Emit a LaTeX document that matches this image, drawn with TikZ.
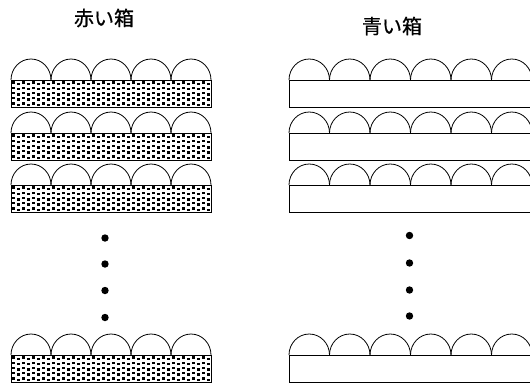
\documentclass[tikz,border=0pt]{standalone}
\usepackage{fontspec}
\newfontfamily\jpfont[FakeBold=0.6]{Noto Sans CJK JP}
\tikzset{
x=1pt, y=-1pt,
title/.style={font=\jpfont\fontsize{20}{22}\selectfont},
shelf/.style={draw,line width=0.8pt},
dome/.style={draw,line width=0.8pt},
grain/.style={fill=black},
gap dot/.style={fill,circle,inner sep=0pt,minimum size=7.4pt}
}
\begin{document}
\begin{tikzpicture}
\useasboundingbox (0,0) rectangle (530,384);
\clip (0,0) rectangle (530,384);

\node[title] (red)  at (104,18) {赤い箱};
\node[title] (blue) at (392,26) {青い箱};

% red boxes
\foreach \ty in {80,133,185,355} {
  \foreach \gx [evaluate=\gx as \sh using {1.5*mod(\gx,2)}] in {0,...,39}
    \foreach \gy in {0,...,4}
      \fill[grain] (12.3+5*\gx,\ty+1.3+5.2*\gy+\sh) rectangle ++(2.4,2.4);
  \draw[shelf] (11,\ty) rectangle (211,\ty+27);
  \foreach \a in {11,51,91,131,171}
    \draw[dome] (\a,\ty) arc[start angle=180,end angle=0,x radius=20pt,y radius=21pt];
}

% blue boxes
\foreach \ty in {80,133,185,355} {
  \draw[shelf] (289,\ty) rectangle (545,\ty+27);
  \foreach \a in {289,329.5,370,410.5,451,491.5}
    \draw[dome] (\a,\ty) arc[start angle=180,end angle=0,x radius=20.25pt,y radius=21pt];
}

% gaps
\foreach \i/\ly/\ry in {1/238/235.5,2/264/263,3/290.5/290,4/317.5/316} {
  \node[gap dot] (red gap\i)  at (105,\ly) {};
  \node[gap dot] (blue gap\i) at (409.5,\ry) {};
}
\end{tikzpicture}
\end{document}
